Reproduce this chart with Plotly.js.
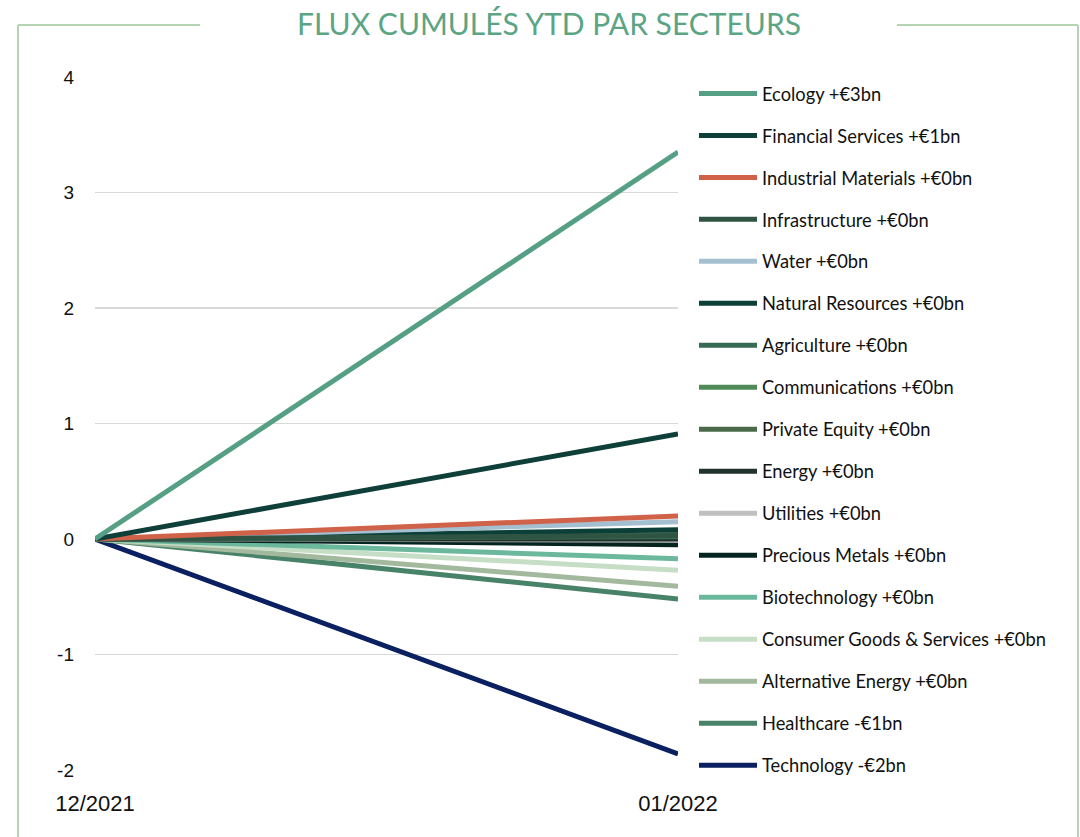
<!DOCTYPE html>
<html>
<head>
<meta charset="utf-8">
<script src="https://cdn.plot.ly/plotly-3.0.1.min.js"></script>
<style>
  html, body { margin: 0; padding: 0; background: #ffffff; }
  #chart { width: 1080px; height: 837px; }
</style>
</head>
<body>
<div id="chart"></div>
<script>
// Period labels
const periods = ["12/2021", "01/2022"];

// Sectors (legend order) and their cumulative flows (bn EUR) at each period
const sectors = [
  "Ecology +€3bn",
  "Financial Services +€1bn",
  "Industrial Materials +€0bn",
  "Infrastructure +€0bn",
  "Water +€0bn",
  "Natural Resources +€0bn",
  "Agriculture +€0bn",
  "Communications +€0bn",
  "Private Equity +€0bn",
  "Energy +€0bn",
  "Utilities +€0bn",
  "Precious Metals +€0bn",
  "Biotechnology +€0bn",
  "Consumer Goods & Services +€0bn",
  "Alternative Energy +€0bn",
  "Healthcare -€1bn",
  "Technology -€2bn"
];
const startValues = [0, 0, 0, 0, 0, 0, 0, 0, 0, 0, 0, 0, 0, 0, 0, 0, 0];
const endValues = [3.35, 0.91, 0.20, 0.03, 0.15, 0.08, 0.02, 0.03, 0.04, 0.00, -0.01, -0.05, -0.17, -0.27, -0.41, -0.52, -1.86];
const colors = [
  "#55a084", "#0e3f38", "#cf6249", "#2f5444", "#a4bfd0", "#0b3f38",
  "#376b56", "#4f8a58", "#4a6a4a", "#20332a", "#c0c0c0", "#06241f",
  "#6cb89d", "#c6ddc6", "#a3b99d", "#478269", "#0a2060"
];
const yTicks = [-2, -1, 0, 1, 2, 3, 4];
const yTickText = ["-2", "-1", "0", "1", "2", "3", "4"];

const xIdx = [0, 1];
const traces = sectors.map((name, i) => ({
  type: "scatter",
  mode: "lines",
  name: name,
  x: xIdx,
  y: [startValues[i], endValues[i]],
  line: { color: colors[i], width: 5 },
  legendgroup: "g" + i,
  legendrank: i + 1,
  hoverinfo: "skip"
}));
// draw in reverse so the first sectors end up on top
const drawOrder = traces.slice().reverse();

const frameColor = "#b4d4b4";
const px2x = px => (px - 95) / 583;
const py2y = py => (770 - py) / 693;

const layout = {
  width: 1080,
  height: 837,
  margin: { l: 95, r: 402, t: 77, b: 67 },
  paper_bgcolor: "#ffffff",
  plot_bgcolor: "#ffffff",
  showlegend: true,
  title: {
    text: "FLUX CUMULÉS YTD PAR SECTEURS",
    font: { family: "Lato, 'Open Sans', sans-serif", size: 30, color: "#5ba585" },
    x: 549 / 1080, xanchor: "center", xref: "container",
    y: 1 - 24 / 837, yref: "container", yanchor: "middle"
  },
  xaxis: {
    range: [0, 1],
    tickvals: xIdx,
    ticktext: periods,
    showgrid: false,
    zeroline: false,
    showline: false,
    ticks: "",
    ticklabelstandoff: 18,
    tickfont: { family: "Liberation Sans, Arial, sans-serif", size: 22, color: "#111111" },
    fixedrange: true
  },
  yaxis: {
    range: [-2, 4],
    tickvals: yTicks,
    ticktext: yTickText,
    showgrid: true,
    gridcolor: "#d9d9d9",
    gridwidth: 1.5,
    zeroline: false,
    showline: false,
    ticks: "",
    ticklabelstandoff: 20,
    tickfont: { family: "Liberation Sans, Arial, sans-serif", size: 19, color: "#111111" },
    fixedrange: true
  },
  legend: {
    x: px2x(694), xanchor: "left",
    y: py2y(75), yanchor: "top",
    traceorder: "grouped",
    tracegroupgap: 15.2,
    itemwidth: 58,
    maxheight: 837,
    font: { family: "Lato, 'Open Sans', sans-serif", size: 18.3, color: "#111111" },
    bgcolor: "rgba(0,0,0,0)"
  },
  shapes: [
    { type: "line", xref: "paper", yref: "paper", x0: px2x(18), x1: px2x(18), y0: py2y(25), y1: py2y(840), line: { color: frameColor, width: 2 } },
    { type: "line", xref: "paper", yref: "paper", x0: px2x(18), x1: px2x(200), y0: py2y(25), y1: py2y(25), line: { color: frameColor, width: 2 } },
    { type: "line", xref: "paper", yref: "paper", x0: px2x(897), x1: px2x(1078), y0: py2y(25), y1: py2y(25), line: { color: frameColor, width: 2 } },
    { type: "line", xref: "paper", yref: "paper", x0: px2x(1078), x1: px2x(1078), y0: py2y(25), y1: py2y(840), line: { color: frameColor, width: 2 } }
  ]
};

Plotly.newPlot("chart", drawOrder, layout, { displayModeBar: false, staticPlot: true });
</script>
</body>
</html>
